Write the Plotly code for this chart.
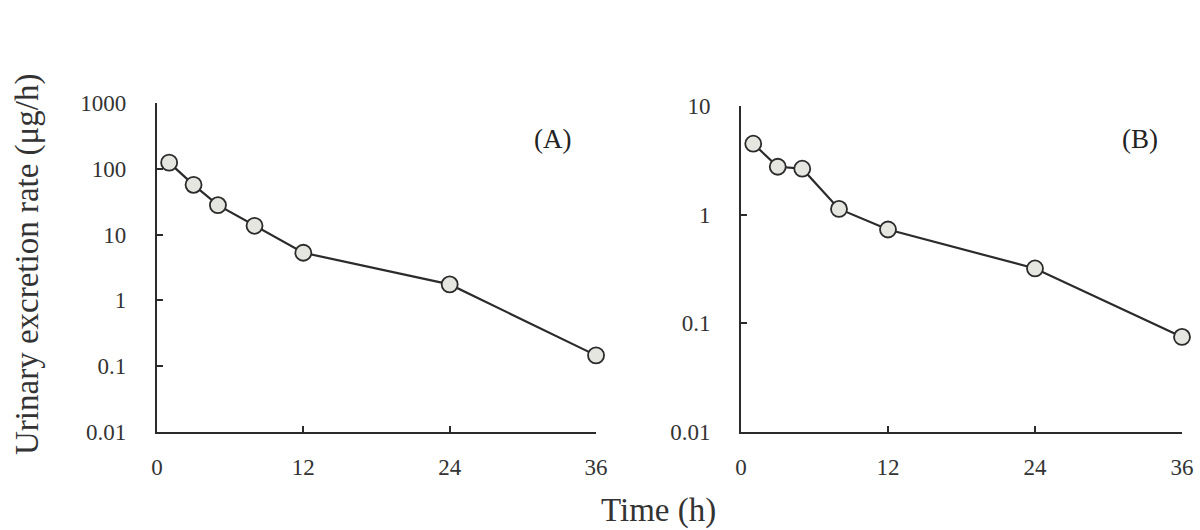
import plotly.graph_objects as go

time_h = [1, 3, 5, 8, 12, 24, 36]
rate_a = [124, 57, 28, 13.6, 5.3, 1.75, 0.146]
rate_b = [4.5, 2.76, 2.65, 1.13, 0.73, 0.32, 0.075]

x_ticks = [0, 12, 24, 36]
y_ticks_a = [0.01, 0.1, 1, 10, 100, 1000]
y_ticks_b = [0.01, 0.1, 1, 10]

FONT = "Liberation Serif"
INK = "#2b2b2b"

fig = go.Figure()

marker = dict(symbol="circle", size=16, color="#e6e6e0", line=dict(color=INK, width=1.8))
line = dict(color=INK, width=2.2)

fig.add_trace(go.Scatter(x=time_h, y=rate_a, mode="lines+markers", marker=marker, line=line,
                         xaxis="x", yaxis="y", cliponaxis=False, showlegend=False))
fig.add_trace(go.Scatter(x=time_h, y=rate_b, mode="lines+markers", marker=marker, line=line,
                         xaxis="x2", yaxis="y2", cliponaxis=False, showlegend=False))

axis_common = dict(showgrid=False, zeroline=False, showline=True, linecolor=INK, linewidth=2,
                   ticks="inside", ticklen=6, tickwidth=2, tickcolor=INK, automargin=False,
                   tickfont=dict(family=FONT, size=23, color="#333333"))

xa = dict(axis_common, range=[0, 36], tickvals=x_ticks, ticktext=[str(v) for v in x_ticks],
          ticklabelstandoff=13)

def ann(text, x, y, size, angle=0, color="#333333"):
    return dict(text=text, x=x/1200, y=1-y/530, xref="paper", yref="paper", showarrow=False,
                xanchor="center", yanchor="middle", textangle=angle,
                font=dict(family=FONT, size=size, color=color))

fig.update_layout(
    width=1200, height=530,
    margin=dict(l=0, r=0, t=0, b=0, autoexpand=False),
    paper_bgcolor="white", plot_bgcolor="white",
    xaxis=dict(xa, domain=[0.1308, 0.4967], anchor="y"),
    xaxis2=dict(xa, domain=[0.6175, 0.985], anchor="y2"),
    yaxis=dict(axis_common, type="log", range=[-2, 3], domain=[0.1849, 0.8057], anchor="x",
               tickvals=y_ticks_a, ticktext=["0.01", "0.1", "1", "10", "100", "1000"],
               ticklabelstandoff=24),
    yaxis2=dict(axis_common, type="log", range=[-2, 1], domain=[0.1849, 0.80], anchor="x2",
                tickvals=y_ticks_b, ticktext=["0.01", "0.1", "1", "10"],
                ticklabelstandoff=24),
    annotations=[
        ann("(A)", 552, 139, 27, color="#222222"),
        ann("(B)", 1140, 139, 27, color="#222222"),
        ann("Urinary excretion rate (μg/h)", 27, 265, 33, angle=-90),
        ann("Time (h)", 658, 510, 33),
    ],
)

fig.write_html("out.html")
